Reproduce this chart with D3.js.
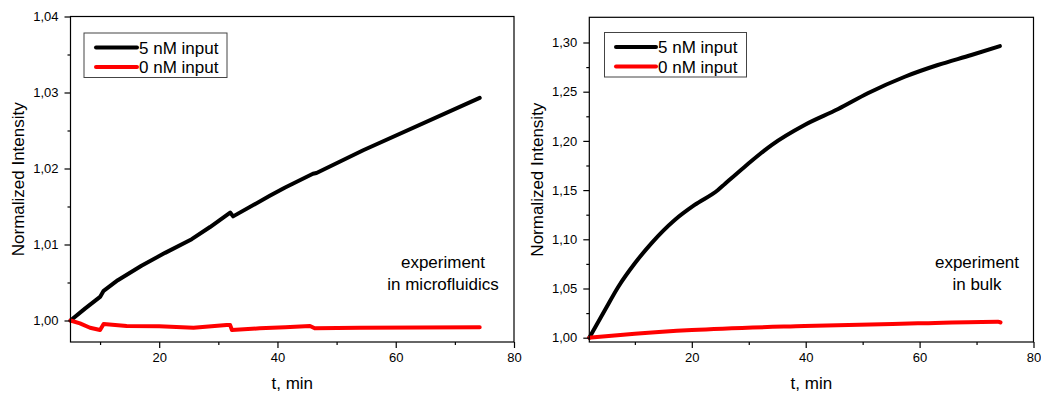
<!DOCTYPE html>
<html>
<head>
<meta charset="utf-8">
<script src="https://cdn.jsdelivr.net/npm/d3@7"></script>
<style>
  html, body { margin: 0; padding: 0; background: #fff; }
  svg { display: block; font-family: "Liberation Sans", Arial, sans-serif; }
</style>
</head>
<body>
<svg id="chart" width="1041" height="396"></svg>
<script>
// ---------- Data ----------
const seriesNames = ["5 nM input", "0 nM input"];
const seriesColors = ["#000000", "#ff0000"];

// Left panel: experiment in microfluidics
const leftTime5 = [5, 7.5, 10, 10.6, 13, 17, 21, 25.5, 28.6, 32, 32.5, 38.7, 41.3, 46, 46.6, 54.5, 74.2];
const leftValue5 = [1.0000, 1.0016, 1.0031, 1.0039, 1.0053, 1.0072, 1.0089, 1.0107, 1.0123, 1.0142, 1.0137, 1.0164, 1.0175, 1.0193, 1.0194, 1.0224, 1.0293];
const leftTime0 = [5, 6.6, 8.3, 10, 10.6, 14.5, 20, 25.8, 31.4, 32, 32.3, 37, 41.3, 45.5, 46.3, 53.9, 74.2];
const leftValue0 = [1.0000, 0.99963, 0.99905, 0.99875, 0.99954, 0.99928, 0.99925, 0.99905, 0.9994, 0.9994, 0.99875, 0.99897, 0.9991, 0.99928, 0.99897, 0.99905, 0.9991];

// Right panel: experiment in bulk
const rightTime5 = [2, 4.75, 7.1, 10, 12.9, 17, 20.5, 24.6, 25.8, 29.3, 34, 39.8, 45.7, 50.9, 57.4, 63.2, 69.1, 74.1];
const rightValue5 = [1.0000, 1.0281, 1.0518, 1.0756, 1.0959, 1.1196, 1.1349, 1.1501, 1.1562, 1.1738, 1.1958, 1.2162, 1.2324, 1.2484, 1.2652, 1.2771, 1.2873, 1.2964];
const rightTime0 = [2, 10, 20, 39.8, 59.7, 73.8, 74.2];
const rightValue0 = [1.0000, 1.0040, 1.0078, 1.0119, 1.0146, 1.0163, 1.0156];

// Tick values
const leftXTicks = [20, 40, 60, 80];
const leftXMinor = [10, 30, 50, 70];
const leftYTicks = [1.00, 1.01, 1.02, 1.03, 1.04];
const leftYMinor = [1.005, 1.015, 1.025, 1.035];
const rightXTicks = [20, 40, 60, 80];
const rightXMinor = [10, 30, 50, 70];
const rightYTicks = [1.00, 1.05, 1.10, 1.15, 1.20, 1.25, 1.30];
const rightYMinor = [1.025, 1.075, 1.125, 1.175, 1.225, 1.275];

const xTitle = "t, min";
const yTitle = "Normalized Intensity";
const leftNote = ["experiment", "in microfluidics"];
const rightNote = ["experiment", "in bulk"];

// ---------- Drawing ----------
const locale = d3.formatLocale({decimal: ",", thousands: ".", grouping: [3], currency: ["", ""]});
const fmt2 = locale.format(".2f");
const svg = d3.select("#chart");

function drawPanel(cfg) {
  const x = d3.scaleLinear().domain(cfg.xDomain).range([cfg.x0, cfg.x1]);
  const y = d3.scaleLinear().domain(cfg.yDomain).range([cfg.y1, cfg.y0]);
  const g = svg.append("g");

  // data lines
  const line = d3.line().x(d => x(d[0])).y(d => y(d[1])).curve(cfg.curve || d3.curveLinear);
  cfg.series.forEach((s, i) => {
    g.append("path")
      .datum(d3.zip(s.t, s.v))
      .attr("d", line)
      .attr("fill", "none")
      .attr("stroke", seriesColors[i])
      .attr("stroke-width", 4)
      .attr("stroke-linejoin", "round")
      .attr("stroke-linecap", "round");
  });

  // frame
  g.append("rect")
    .attr("x", cfg.x0).attr("y", cfg.y0)
    .attr("width", cfg.x1 - cfg.x0).attr("height", cfg.y1 - cfg.y0)
    .attr("fill", "none").attr("stroke", "#000").attr("stroke-width", 1.2);

  // axes
  const xAxis = g.append("g").attr("transform", `translate(0,${cfg.y1})`)
    .call(d3.axisBottom(x).tickValues(cfg.xTicks).tickSize(6).tickPadding(5).tickFormat(d3.format("d")));
  const xMinor = g.append("g").attr("transform", `translate(0,${cfg.y1})`)
    .call(d3.axisBottom(x).tickValues(cfg.xMinor).tickSize(3).tickFormat(""));
  const yAxis = g.append("g").attr("transform", `translate(${cfg.x0},0)`)
    .call(d3.axisLeft(y).tickValues(cfg.yTicks).tickSize(6).tickPadding(6).tickFormat(fmt2));
  const yMinor = g.append("g").attr("transform", `translate(${cfg.x0},0)`)
    .call(d3.axisLeft(y).tickValues(cfg.yMinor).tickSize(3).tickFormat(""));
  [xAxis, xMinor, yAxis, yMinor].forEach(a => {
    a.select(".domain").remove();
    a.selectAll("line").attr("stroke", "#000").attr("stroke-width", 1.2);
    a.selectAll("text").attr("font-size", 13).attr("fill", "#000")
      .attr("font-family", "'Liberation Sans', Arial, sans-serif");
  });

  // axis titles
  g.append("text")
    .attr("x", (cfg.x0 + cfg.x1) / 2).attr("y", 389)
    .attr("text-anchor", "middle").attr("font-size", 17).text(xTitle);
  g.append("text")
    .attr("transform", `translate(${cfg.yTitleX},${(cfg.y0 + cfg.y1) / 2}) rotate(-90)`)
    .attr("text-anchor", "middle").attr("font-size", 17).text(yTitle);

  // legend
  const lg = g.append("g");
  lg.append("rect")
    .attr("x", cfg.legend.x).attr("y", cfg.legend.y)
    .attr("width", cfg.legend.w).attr("height", cfg.legend.h)
    .attr("fill", "#fff").attr("stroke", "#444").attr("stroke-width", 1);
  seriesNames.forEach((name, i) => {
    const ly = cfg.legend.y + 14.5 + i * 19.4;
    lg.append("line")
      .attr("x1", cfg.legend.lx1).attr("x2", cfg.legend.lx2)
      .attr("y1", ly).attr("y2", ly)
      .attr("stroke", seriesColors[i]).attr("stroke-width", 4).attr("stroke-linecap", "round");
    lg.append("text")
      .attr("x", cfg.legend.lx2 + 2).attr("y", ly + 6.1)
      .attr("font-size", 17).attr("fill", "#000").text(name);
  });

  // annotation
  cfg.note.forEach((t, i) => {
    g.append("text")
      .attr("x", cfg.noteX).attr("y", 268 + i * 22)
      .attr("text-anchor", "middle").attr("font-size", 17).attr("fill", "#000").text(t);
  });
}

drawPanel({
  x0: 70.5, x1: 514, y0: 16.5, y1: 342,
  xDomain: [5, 80], yDomain: [0.99717, 1.04],
  xTicks: leftXTicks, xMinor: leftXMinor, yTicks: leftYTicks, yMinor: leftYMinor,
  series: [{t: leftTime5, v: leftValue5}, {t: leftTime0, v: leftValue0}],
  yTitleX: 24,
  legend: {x: 84, y: 33, w: 143, h: 44.5, lx1: 96, lx2: 137},
  note: leftNote, noteX: 443
});

drawPanel({
  x0: 589.3, x1: 1033.5, y0: 17.3, y1: 342,
  xDomain: [2, 80], yDomain: [0.99563, 1.3256],
  xTicks: rightXTicks, xMinor: rightXMinor, yTicks: rightYTicks, yMinor: rightYMinor,
  series: [{t: rightTime5, v: rightValue5}, {t: rightTime0, v: rightValue0}],
  curve: d3.curveMonotoneX,
  yTitleX: 543,
  legend: {x: 604.5, y: 32.5, w: 142, h: 44.5, lx1: 616, lx2: 656},
  note: rightNote, noteX: 977
});
</script>
</body>
</html>
